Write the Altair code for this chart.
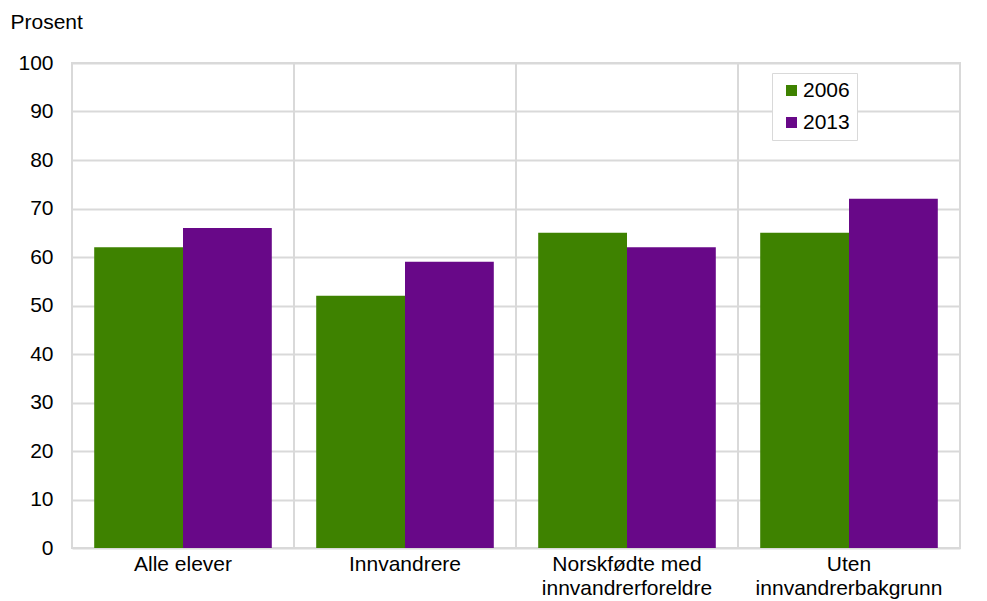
import altair as alt
import pandas as pd

categories = ["Alle elever", "Innvandrere", "Norskfødte med innvandrerforeldre", "Uten innvandrerbakgrunn"]
values_2006 = [62, 52, 65, 65]
values_2013 = [66, 59, 62, 72]
years = ["2006", "2013"]
colors = ["#3e8200", "#680888"]

rows = []
for c, a, b in zip(categories, values_2006, values_2013):
    rows.append({"kategori": c, "år": "2006", "verdi": a})
    rows.append({"kategori": c, "år": "2013", "verdi": b})
df = pd.DataFrame(rows)
bounds = pd.DataFrame({"pos": list(range(1, len(categories)))})

label_expr = (
    "datum.label == 'Norskfødte med innvandrerforeldre' ? ['Norskfødte med', 'innvandrerforeldre'] : "
    "datum.label == 'Uten innvandrerbakgrunn' ? ['Uten', 'innvandrerbakgrunn'] : datum.label"
)

FONT = "Liberation Sans"
FS = 21

xscale = alt.Scale(domain=categories, paddingInner=0.2, paddingOuter=0.1)

bars = alt.Chart(df).mark_bar().encode(
    x=alt.X("kategori:N", scale=xscale, sort=categories,
            axis=alt.Axis(title=None, labelAngle=0, labelExpr=label_expr, ticks=False,
                          domain=False, labelFontSize=FS, labelColor="#000000",
                          labelPadding=5, labelLineHeight=24, labelFont=FONT,
                          labelLimit=400)),
    xOffset=alt.XOffset("år:N", sort=years),
    y=alt.Y("verdi:Q", scale=alt.Scale(domain=[0, 100]),
            axis=alt.Axis(values=list(range(0, 101, 10)), title="Prosent", titleAngle=0,
                          titleX=-62, titleY=-35, titleAlign="left", titleBaseline="alphabetic",
                          titleFontWeight="normal",
                          titleFontSize=FS, titleFont=FONT, titleColor="#000000",
                          labelFontSize=FS, labelFont=FONT, labelColor="#000000",
                          labelPadding=19, ticks=False, domain=False,
                          gridColor="#d9d9d9", gridWidth=2)),
    color=alt.Color("år:N", scale=alt.Scale(domain=years, range=colors),
                    legend=alt.Legend(title=None, orient="none", legendX=700, legendY=10,
                                      symbolType="square", symbolSize=121, symbolStrokeWidth=0,
                                      symbolOffset=2,
                                      labelExpr="datum.label + '\u00a0'",
                                      labelFontSize=FS, labelFont=FONT,
                                      labelColor="#000000", rowPadding=10, padding=7,
                                      strokeColor="#d9d9d9", fillColor="#ffffff",
                                      labelOffset=1)),
)

vrules = alt.Chart(bounds).mark_rule(color="#d9d9d9", strokeWidth=2).encode(
    x=alt.X("pos:Q", scale=alt.Scale(domain=[0, len(categories)], nice=False, zero=False), axis=None)
)

chart = alt.layer(vrules, bars).resolve_scale(x="independent").properties(
    width=888, height=485,
    autosize=alt.AutoSizeParams(type="none"),
    padding={"left": 64, "top": 55, "right": 10, "bottom": 52},
).configure_view(stroke="#d9d9d9", strokeWidth=2)

chart.save("out.html", embed_options={"renderer": "svg", "actions": False})
